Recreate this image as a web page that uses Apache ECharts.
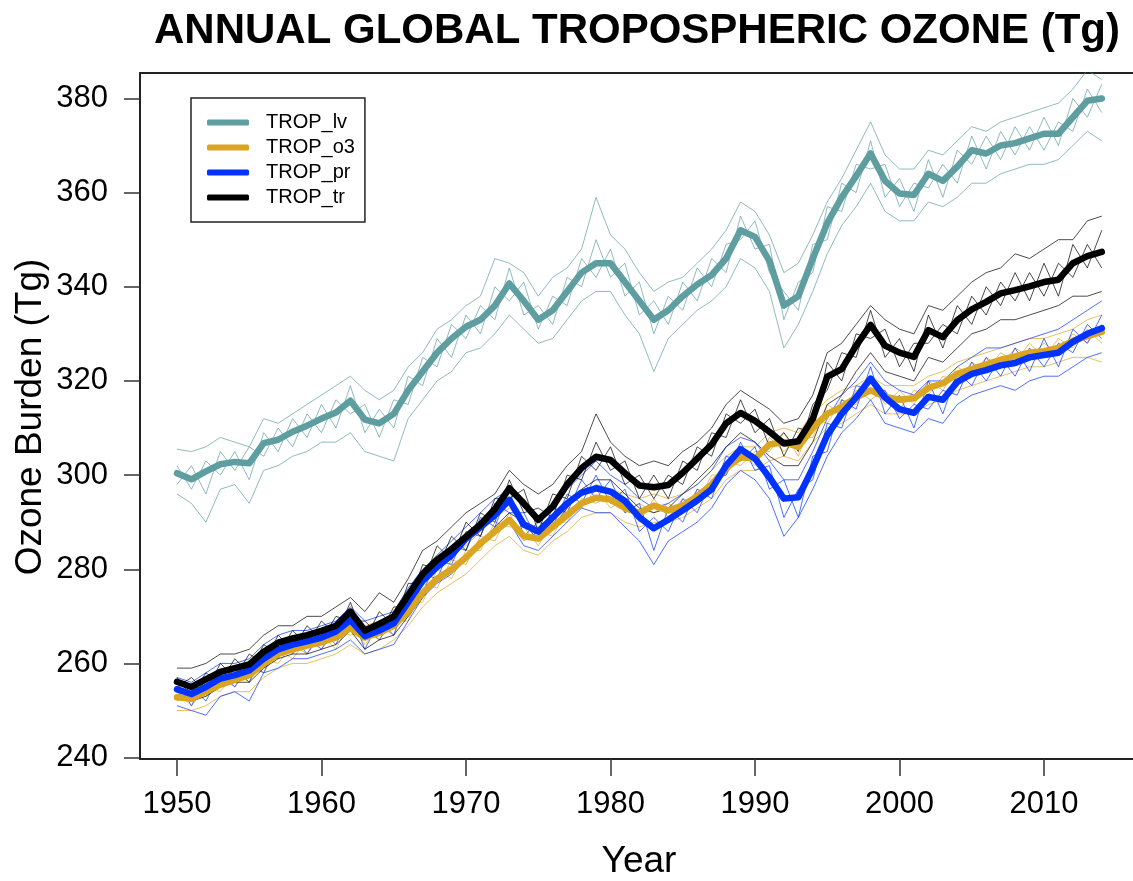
<!DOCTYPE html>
<html>
<head>
<meta charset="utf-8">
<script src="https://cdn.jsdelivr.net/npm/echarts@6/dist/echarts.min.js"></script>
<style>html,body{margin:0;padding:0;background:#fff}#c{width:1133px;height:881px}</style>
</head>
<body>
<div id="c"></div>
<script>
// ---- data ----
const years = [];
for (let y = 1950; y <= 2014; y++) years.push(y);

const xTicks = [1950, 1960, 1970, 1980, 1990, 2000, 2010];
const yTicks = [240, 260, 280, 300, 320, 340, 360, 380];

const lvMean = [300.4,299.1,300.8,302.3,302.8,302.5,306.8,307.5,309.2,310.5,
  312,313.3,315.8,311.8,311,313,318,322,326,329,
  331.5,333,336,340.7,337,333,335,339,343,345,
  345,341,337,333,335,338,340.5,342.5,346,352,
  350.6,345.5,336,338,346,353.5,359,363.5,368.3,362.5,
  359.8,359.5,364,362.5,365.5,369,368.3,370,370.5,371.5,
  372.5,372.5,376,379.5,380];
const lvHigh = [305.5,305,306,308,307,306,312,311,313,315,
  317,319,321,318,316,318,323,326,331,333,
  336,338,346,345,343,338,342,344,348,359,
  351,348,343,339,341,342,345,348,352,358,
  356,351,343,345,351,358,363,369,375,368,
  365,365,369,368,371,374,373,375,376,377,
  378,379,382,386,384];
const lvLow = [296,294,290,297,298,294,301,302,304,305,
  307,307,309,305,304,303,312,316,320,322,
  326,327,330,334,331,328,329,333,337,339,
  339,334,330,322,329,332,335,337,340,346,
  344,339,327,332,339,347,353,357,362,356,
  354,354,358,357,359,362,362,364,365,366,
  366,367,370,373,371];
const lvMemA = [302,297,303,300,305,299,309,305,312,308,
  315,310,319,309,314,310,321,319,329,325,
  334,330,340,337,341,331,338,336,346,342,
  348,338,341,330,338,335,344,340,349,350,
  354,343,339,335,349,350,362,360,371,359,
  363,356,367,359,369,366,372,367,374,369,
  376,370,380,376,383];
const lvMemB = [298,302,296,305,301,306,304,310,306,313,
  309,316,313,315,308,316,315,325,323,332,
  329,336,333,344,334,336,332,342,340,350,
  342,345,334,337,332,341,337,346,343,355,
  348,349,333,341,343,357,356,366,365,366,
  357,362,361,366,362,372,365,373,368,374,
  369,375,373,382,377];

const o3Mean = [252.8,252.5,254,255.5,256.5,257.5,260,262,263,263.8,
  264.5,265.5,267.5,265.5,266.5,268,271,275,278,280,
  282.5,285.5,288,290.5,287,286.5,289,291.5,294,295.2,
  294.8,293,292,293.5,292.5,293.5,295.5,298,301.5,303.8,
  303.5,306.5,307,306,310,313,314.5,316.5,318,316.6,
  316,316.3,318.5,319.5,321.5,322.5,323.5,324.5,325.2,326,
  326.3,327,328.5,329.5,330.4];
const o3High = [255,255,256,258,259,260,262,264,265,266,
  267,268,270,268,269,270,274,278,281,283,
  285,288,291,293,290,289,291,294,296,298,
  297,296,295,296,295,296,298,301,304,306,
  306,309,310,309,313,316,318,319,321,319,
  319,319,321,322,324,325,326,327,328,329,
  329,330,331,333,334];
const o3Low = [250,250,251,253,254,254,257,259,260,260,
  261,262,264,262,263,265,268,272,275,277,
  279,282,285,287,284,283,286,288,291,292,
  292,290,289,290,290,291,293,295,299,301,
  301,303,304,303,307,310,311,313,315,313,
  313,313,315,316,318,319,320,321,322,323,
  323,324,325,325,324];
const o3MemA = [254,251,255,254,258,256,261,260,264,262,
  266,263,269,264,268,266,273,273,280,278,
  284,284,290,289,289,285,290,290,295,294,
  296,292,294,292,294,292,297,296,303,302,
  305,305,309,304,312,311,316,315,320,315,
  318,315,320,318,323,321,325,323,327,325,
  328,326,330,328,332];
const o3MemB = [252,254,253,257,255,259,258,263,261,265,
  263,267,266,267,265,269,269,277,276,282,
  281,287,286,292,286,288,287,293,293,297,
  293,295,290,295,291,295,294,300,300,305,
  302,308,305,308,308,315,313,318,316,318,
  314,318,317,321,320,324,322,326,324,328,
  325,329,327,331,328];

const prMean = [254.5,253.5,255,256.8,257.5,258.5,261,263,264,264.7,
  265.5,266.8,269.2,265.8,267,268.5,273,277.5,280.5,283,
  286.5,289,291.5,294.7,289.5,288,291,294,296.3,297.2,
  296.5,294.5,291,288.7,290.5,292.5,294.6,297,302,305.5,
  303.5,299.5,295,295.3,301.5,308.5,313,316.5,320.5,316.5,
  314,313.2,316.6,316,319.8,321.5,322.3,323.3,323.8,325,
  325.5,326,328.3,330,331.2];
const prHigh = [257,256,258,260,260,261,264,266,267,267,
  268,269,272,269,270,271,276,280,283,286,
  289,292,295,297,293,291,294,297,300,303,
  300,298,295,293,294,296,298,301,306,308,
  307,303,299,299,305,312,317,320,324,320,
  318,317,320,320,323,325,327,327,328,329,
  330,331,333,335,337];
const prLow = [251,250,249,253,254,252,258,259,261,261,
  262,263,265,262,263,264,269,274,277,279,
  282,285,288,290,285,284,287,290,293,292,
  292,289,286,281,286,288,290,293,298,301,
  299,295,287,291,297,304,309,312,316,311,
  310,309,312,311,315,317,318,319,318,320,
  321,321,323,325,326];
const prMemA = [256,251,257,255,259,256,263,261,266,262,
  267,264,271,263,269,266,275,275,282,281,
  288,287,294,292,292,286,293,292,299,295,
  299,292,294,284,293,290,297,295,304,303,
  306,297,299,291,304,305,316,314,323,313,
  317,310,320,313,322,319,325,321,327,322,
  329,323,331,328,334];
const prMemB = [253,255,252,258,255,260,258,265,262,266,
  263,268,267,268,265,270,270,279,278,285,
  284,291,289,297,287,290,289,296,294,300,
  294,297,288,291,288,295,292,299,300,307,
  301,302,291,297,299,311,310,319,318,318,
  312,315,314,318,317,324,320,325,321,327,
  323,328,326,332,329];

const trMean = [256.1,255,256.6,258.2,259,259.8,262.5,264.4,265.3,266,
  266.9,268,271,267,268.4,270,274.5,279,282,284.3,
  286.9,289.5,292.8,297.2,294,290.5,293.3,298,301.5,303.9,
  303.2,300.4,297.8,297.4,297.9,300.5,303.5,306.5,311,313.2,
  311.5,309.2,306.7,307.2,312,320.9,322.5,327.5,331.9,327.5,
  326,325.1,330.8,329.3,332.9,335.2,336.8,338.6,339.3,340.1,
  341,341.5,345,346.5,347.4];
const trHigh = [259,259,260,262,262,263,266,268,268,270,
  270,272,274,271,275,273,278,284,286,289,
  292,294,296,301,298,296,298,302,305,313,
  307,304,302,303,302,305,307,310,315,318,
  316,314,311,312,317,326,328,332,336,333,
  331,330,336,335,338,341,343,344,347,346,
  348,350,350,354,355];
const trLow = [253,252,253,255,256,256,259,261,262,262,
  263,264,267,263,265,266,270,274,278,280,
  282,285,289,292,290,286,289,293,297,299,
  299,296,293,292,293,296,299,302,306,309,
  307,304,302,302,307,315,317,322,326,322,
  321,320,325,324,327,330,331,333,333,334,
  335,336,338,338,339];
const trMemA = [257,253,258,256,261,258,264,262,267,264,
  269,266,273,265,271,268,277,277,285,282,
  290,287,295,295,297,288,296,295,304,301,
  306,298,300,295,300,298,306,304,313,311,
  314,306,309,305,315,318,326,325,335,325,
  329,322,334,327,336,332,340,336,343,337,
  345,338,349,344,352];
const trMemB = [255,257,254,260,257,262,260,266,263,268,
  265,270,269,269,266,272,272,281,280,287,
  284,292,290,299,292,293,291,300,299,307,
  301,303,295,300,295,303,301,309,308,316,
  309,312,304,310,309,324,320,330,329,331,
  323,328,328,332,330,338,334,341,337,343,
  338,345,342,349,344];

const groups = [
  {name: 'TROP_lv', color: '#5f9ea0', mean: lvMean, members: [lvHigh, lvLow, lvMemA, lvMemB]},
  {name: 'TROP_o3', color: '#daa520', mean: o3Mean, members: [o3High, o3Low, o3MemA, o3MemB]},
  {name: 'TROP_pr', color: '#0033ff', mean: prMean, members: [prHigh, prLow, prMemA, prMemB]},
  {name: 'TROP_tr', color: '#000000', mean: trMean, members: [trHigh, trLow, trMemA, trMemB]}
];

// ---- chart ----
const pairs = arr => years.map((y, i) => [y, arr[i]]);
const series = [];
groups.forEach(g => {
  g.members.forEach((arr, k) => {
    series.push({
      type: 'line', name: g.name + '_m' + k, data: pairs(arr),
      showSymbol: false, symbol: 'none', silent: true,
      lineStyle: {color: g.color, width: 1, opacity: 0.7},
      itemStyle: {color: g.color}
    });
  });
});
groups.forEach(g => {
  series.push({
    type: 'line', name: g.name, data: pairs(g.mean),
    showSymbol: false, symbol: 'none', silent: true,
    lineStyle: {color: g.color, width: 6.5, cap: 'round', join: 'round'},
    itemStyle: {color: g.color}
  });
});

const FONT = '"Liberation Sans", Arial, sans-serif';
const AX = {color: '#222', width: 2};
const chart = echarts.init(document.getElementById('c'), null, {renderer: 'canvas'});
chart.setOption({
  animation: false,
  backgroundColor: '#ffffff',
  grid: {left: 140, top: 73, right: 0, bottom: 122, show: false},
  xAxis: [{
    type: 'value', min: 1947.44, max: 2016.16, position: 'bottom',
    axisLine: {show: true, lineStyle: AX},
    splitLine: {show: false},
    axisTick: {show: true, length: 17, customValues: xTicks, lineStyle: {color: '#333', width: 1.5}},
    axisLabel: {customValues: xTicks, margin: 30, fontSize: 31, color: '#000', fontFamily: FONT,
      formatter: v => String(v)}
  }, {
    type: 'value', min: 1947.44, max: 2016.16, position: 'top',
    axisLine: {show: true, lineStyle: AX},
    splitLine: {show: false}, axisTick: {show: false}, axisLabel: {show: false}
  }],
  yAxis: {
    type: 'value', min: 239.7, max: 385.4,
    axisLine: {show: true, lineStyle: AX},
    splitLine: {show: false},
    axisTick: {show: true, length: 16, customValues: yTicks, lineStyle: {color: '#333', width: 1.5}},
    axisLabel: {customValues: yTicks, margin: 32, fontSize: 31, color: '#000', fontFamily: FONT,
      formatter: v => String(v)}
  },
  legend: {
    data: groups.map(g => g.name),
    orient: 'vertical', left: 191, top: 98,
    padding: [12, 10, 12, 16],
    itemGap: 0, itemWidth: 42, itemHeight: 6, icon: 'roundRect',
    borderColor: '#222', borderWidth: 1.5,
    selectedMode: false,
    textStyle: {fontSize: 20, color: '#000', fontFamily: FONT, lineHeight: 25, padding: [0, 0, 0, 12]}
  },
  graphic: [
    {type: 'text', x: 637, y: 31, style: {text: 'ANNUAL GLOBAL TROPOSPHERIC OZONE (Tg)',
      font: 'bold 42px ' + FONT, fill: '#000', textAlign: 'center', textVerticalAlign: 'middle'}},
    {type: 'text', x: 639, y: 862, style: {text: 'Year',
      font: '37px ' + FONT, fill: '#000', textAlign: 'center', textVerticalAlign: 'middle'}},
    {type: 'text', x: 31, y: 417, rotation: Math.PI / 2, style: {text: 'Ozone Burden (Tg)',
      font: '37px ' + FONT, fill: '#000', textAlign: 'center', textVerticalAlign: 'middle'}}
  ],
  series: series
});
</script>
</body>
</html>
